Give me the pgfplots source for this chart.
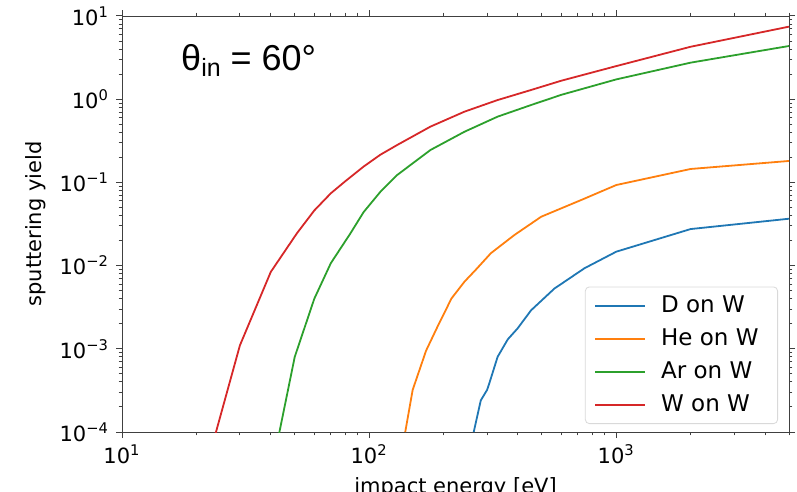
\documentclass[border=0pt]{standalone}
\usepackage{fontspec}
\setmainfont{DejaVu Sans}
\newfontfamily\arialfont{Liberation Sans}
\usepackage{pgfplots}
\pgfplotsset{compat=1.18}

\definecolor{tabblue}{HTML}{1F77B4}
\definecolor{taborange}{HTML}{FF7F0E}
\definecolor{tabgreen}{HTML}{2CA02C}
\definecolor{tabred}{HTML}{D62728}

\begin{document}
\begin{tikzpicture}
\begin{axis}[
  scale only axis, width=333.5pt, height=208pt,
  xmode=log, ymode=log,
  xmin=10, xmax=5000, ymin=1e-4, ymax=10,
  axis line style={black!75},
  tick align=outside, major tick length=3pt, minor tick length=1.7pt,
  every tick/.style={black!75, line width=0.5pt},
  xtick={10,100,1000},
  xticklabels={10\textsuperscript{1},10\textsuperscript{2},10\textsuperscript{3}},
  minor xtick={20,30,40,50,60,70,80,90,200,300,400,500,600,700,800,900,2000,3000,4000,5000},
  ytick={1e-4,1e-3,1e-2,1e-1,1,10},
  yticklabels={10\textsuperscript{−4},10\textsuperscript{−3},10\textsuperscript{−2},10\textsuperscript{−1},10\textsuperscript{0},10\textsuperscript{1}},
  minor ytick={2e-4,3e-4,4e-4,5e-4,6e-4,7e-4,8e-4,9e-4,
               2e-3,3e-3,4e-3,5e-3,6e-3,7e-3,8e-3,9e-3,
               2e-2,3e-2,4e-2,5e-2,6e-2,7e-2,8e-2,9e-2,
               0.2,0.3,0.4,0.5,0.6,0.7,0.8,0.9,2,3,4,5,6,7,8,9},
  ticklabel style={font=\fontsize{10.5}{12}\selectfont},
  xlabel={impact energy [eV]}, ylabel={sputtering yield},
  label style={font=\fontsize{10.5}{12}\selectfont},
  legend style={at={(1,0)}, anchor=south east, xshift=-5.5pt, yshift=4pt,
    draw=black!15, rounded corners=2pt, fill=white,
    font=\fontsize{11.5}{13}\selectfont, row sep=2.6pt, inner xsep=4.5pt, inner ysep=2.5pt,
    /tikz/every odd column/.append style={column sep=5.5pt}},
  legend cell align=left,
  legend image code/.code={\draw[#1] (0pt,0pt) -- (25pt,0pt);},
  every axis plot/.append style={line width=0.9pt},
]
\coordinate (sw) at (rel axis cs:0,0);
\coordinate (ne) at (rel axis cs:1,1);

\addplot[tabblue] coordinates {
  (265,1e-4)(283,2.4e-4)(300,3.2e-4)(306,3.8e-4)(331,8.0e-4)(364,1.3e-3)
  (399,1.76e-3)(452,2.9e-3)(562,5.3e-3)(744,9.3e-3)(1000,0.0147)
  (2000,0.0275)(5000,0.0366)
};
\addlegendentry{D on W\hspace*{3pt}}

\addplot[taborange] coordinates {
  (140,1e-4)(150,3.2e-4)(170,9.5e-4)(190,1.9e-3)(204,2.9e-3)(215,4.0e-3)
  (243,6.4e-3)(270,8.9e-3)(311,0.0141)(387,0.0233)(497,0.0387)(721,0.0614)
  (1000,0.093)(2000,0.145)(5000,0.181)
};
\addlegendentry{He on W\hspace*{3pt}}

\addplot[tabgreen] coordinates {
  (40,3.1e-5)(50,8e-4)(60,4.0e-3)(70,0.0107)(84,0.0244)(95,0.044)(111,0.077)
  (130,0.123)(177,0.245)(243,0.406)(331,0.617)(452,0.851)(600,1.13)
  (1000,1.73)(2000,2.75)(5000,4.36)
};
\addlegendentry{Ar on W\hspace*{3pt}}

\addplot[tabred] coordinates {
  (20,1.4e-5)(30,1.1e-3)(40,8.4e-3)(51,0.0244)(60,0.046)(70,0.074)(80,0.103)
  (95,0.155)(111,0.215)(130,0.282)(177,0.468)(243,0.708)(331,0.977)
  (452,1.29)(600,1.67)(1000,2.5)(2000,4.27)(5000,7.45)
};
\addlegendentry{W on W\hspace*{3pt}}

\node[anchor=base west, inner sep=0pt, font=\arialfont\fontsize{18}{21}\selectfont]
  at (axis cs:17.3,2.24) {θ\raisebox{-0.35ex}{\fontsize{12.5}{13}\selectfont in} = 60°};
\end{axis}
\pgfresetboundingbox
\path[use as bounding box] ([xshift=-61pt,yshift=-30pt]sw) rectangle ([xshift=4pt,yshift=8pt]ne);
\end{tikzpicture}
\end{document}
